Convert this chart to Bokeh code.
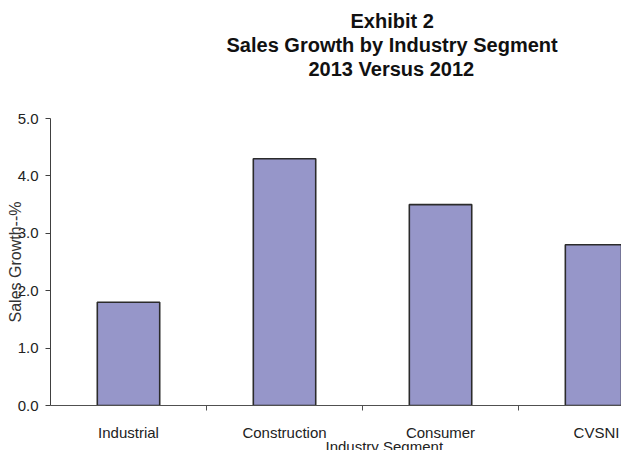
from bokeh.plotting import figure
from bokeh.models import Range1d, FixedTicker, NumeralTickFormatter, Title, ColumnDataSource
from bokeh.embed import file_html
from bokeh.resources import INLINE

# ---- data ----
categories = ["Industrial", "Construction", "Consumer", "CVSNI"]
growth = [1.8, 4.3, 3.5, 2.8]
y_ticks = [0, 1, 2, 3, 4, 5]
title_lines = ["Exhibit 2", "Sales Growth by Industry Segment", "2013 Versus 2012"]
y_title = "Sales Growth--%"
x_title = "Industry Segment"

xs = [i + 0.5 for i in range(len(categories))]
src = ColumnDataSource(dict(x=xs, top=growth, cat=categories))

FONT = "Liberation Sans"

p = figure(width=621, height=450, output_backend="svg", toolbar_location=None,
           x_range=Range1d(0, 3.66), y_range=Range1d(0, 5),
           min_border_left=50, min_border_right=0, min_border_top=118, min_border_bottom=44)
p.outline_line_color = None
p.xgrid.grid_line_color = None
p.ygrid.grid_line_color = None
p.background_fill_color = "white"
p.border_fill_color = "white"

p.vbar(x="x", top="top", width=0.4, bottom=0, source=src,
       fill_color="#9696C9", line_color="#2b2b2b", line_width=1.6)

# y axis
ya = p.yaxis[0]
ya.ticker = FixedTicker(ticks=y_ticks, minor_ticks=[])
ya.formatter = NumeralTickFormatter(format="0.0")
ya.axis_line_color = "#404040"
ya.major_tick_line_color = "#404040"
ya.major_tick_out = 5
ya.major_tick_in = 0
ya.major_label_standoff = 7
ya.major_label_text_font = FONT
ya.major_label_text_font_size = "15px"
ya.major_label_text_color = "#222222"
ya.axis_label = y_title
ya.axis_label_standoff = -9
ya.axis_label_text_font = FONT
ya.axis_label_text_font_style = "normal"
ya.axis_label_text_font_size = "16px"
ya.axis_label_text_color = "#333333"

# x axis
xa = p.xaxis[0]
xa.ticker = FixedTicker(ticks=xs, minor_ticks=[i for i in range(1, len(categories))])
xa.major_label_overrides = {x: c for x, c in zip(xs, categories)}
xa.axis_line_color = "#505050"
xa.major_tick_line_color = None
xa.major_tick_out = 0
xa.major_tick_in = 0
xa.minor_tick_line_color = "#505050"
xa.minor_tick_out = 5
xa.minor_tick_in = 0
xa.major_label_standoff = 13
xa.major_label_text_font = FONT
xa.major_label_text_font_size = "15px"
xa.major_label_text_color = "#222222"

# spacer between the frame and the title block
p.add_layout(Title(text=" ", standoff=36, text_font_size="1px"), "above")

# titles stacked above the frame (nearest first)
offsets = [300, 176, 258]
for t, off in reversed(list(zip(title_lines, offsets))):
    p.add_layout(Title(text=t, align="left", offset=off, standoff=0,
                       text_font=FONT, text_font_style="bold", text_font_size="20px",
                       text_color="#111111"), "above")

# x axis title below the axis
p.add_layout(Title(text=x_title, align="left", offset=275, standoff=-12,
                   vertical_align="top",
                   text_font=FONT, text_font_style="normal", text_font_size="15px",
                   text_color="#222222"), "below")

open("out.html", "w").write(file_html(p, INLINE))
